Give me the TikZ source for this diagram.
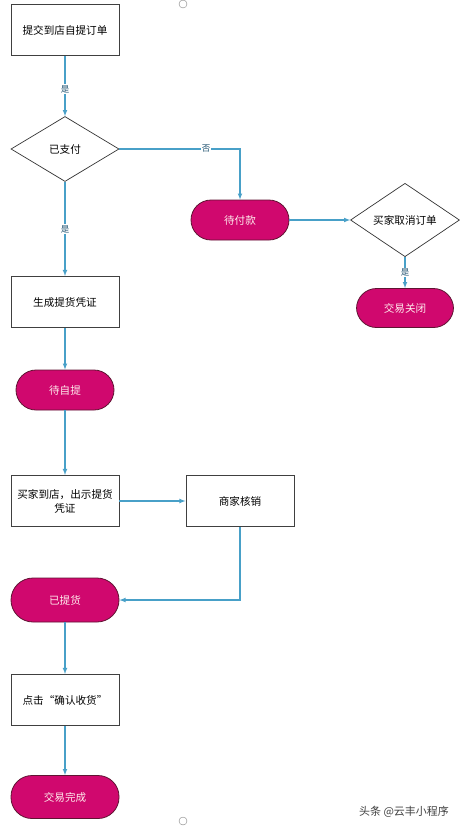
\documentclass[tikz,border=0pt]{standalone}
\usepackage{fontspec}
\setmainfont{Noto Sans CJK SC}
\usetikzlibrary{shapes.geometric,positioning}
\definecolor{flowblue}{RGB}{72,160,200}
\definecolor{statefill}{RGB}{208,8,110}
\definecolor{stateedge}{RGB}{95,20,50}
\definecolor{tagtext}{RGB}{30,80,110}

\begin{document}
\begin{tikzpicture}[x=1pt,y=-1pt,
    box/.style={draw=black!75,line width=0.9pt,minimum width=108pt,minimum height=51pt,inner sep=1pt,align=center,font=\fontsize{10.6}{14}\selectfont},
    decide/.style={draw=black!80,line width=0.7pt,diamond,inner sep=0pt,minimum width=108pt,minimum height=65pt,font=\fontsize{10.6}{14}\selectfont},
    state/.style={draw=stateedge,line width=0.8pt,fill=statefill,rounded corners=20pt,minimum width=98pt,minimum height=40pt,text=pink!30,font=\fontsize{10.6}{14}\selectfont},
    flow/.style={draw=flowblue,line width=1.1pt,-latex},
    tag/.style={fill=white,inner sep=1pt,text=tagtext,font=\fontsize{8.5}{9}\selectfont}]
    \useasboundingbox (0,0) rectangle (463,828);

    % Draw page markers
    \draw[black!50] (183,4) circle (4pt);
    \draw[black!50] (183,821) circle (4pt);

    % Draw steps
    \node[box] (submit) at (65,30) {提交到店自提订单};
    \node[decide] (paid) at (65,149) {已支付};
    \node[state] (unpaid) at (240,220) {待付款};
    \node[decide,minimum width=109pt,minimum height=64pt] (cancel) at (405,220) {买家取消订单};
    \node[state,minimum width=97pt,minimum height=39pt] (closed) at (405,308) {交易关闭};
    \node[box] (voucher) at (65,302) {生成提货凭证};
    \node[state] (waitpick) at (65,390) {待自提};
    \node[box] (arrive) at (65,501) {买家到店，出示提货\\凭证};
    \node[box] (verify) at (240,501) {商家核销};
    \node[state,minimum width=108pt,minimum height=44pt,rounded corners=22pt] (picked) at (65,600) {已提货};
    \node[box] (confirm) at (65,700) {点击“确认收货”};
    \node[state,minimum width=108pt,minimum height=43pt,rounded corners=21pt] (done) at (65,797) {交易完成};

    % Draw connectors
    \draw[flow] (submit) -- node[tag,pos=0.55] {是} (paid);
    \draw[flow] (paid.east) -| node[tag,pos=0.36] {否} (unpaid.north);
    \draw[flow] (unpaid) -- (cancel);
    \draw[flow] (cancel) -- node[tag] {是} (closed);
    \draw[flow] (paid) -- node[tag] {是} (voucher);
    \draw[flow] (voucher) -- (waitpick);
    \draw[flow] (waitpick) -- (arrive);
    \draw[flow] (arrive) -- (verify);
    \draw[flow] (verify) |- (picked);
    \draw[flow] (picked) -- (confirm);
    \draw[flow] (confirm) -- (done);

    % Draw watermark
    \node[text=black!75,font=\fontsize{11}{13}\selectfont] (mark) at (404,812) {头条 @云丰小程序};
\end{tikzpicture}
\end{document}
